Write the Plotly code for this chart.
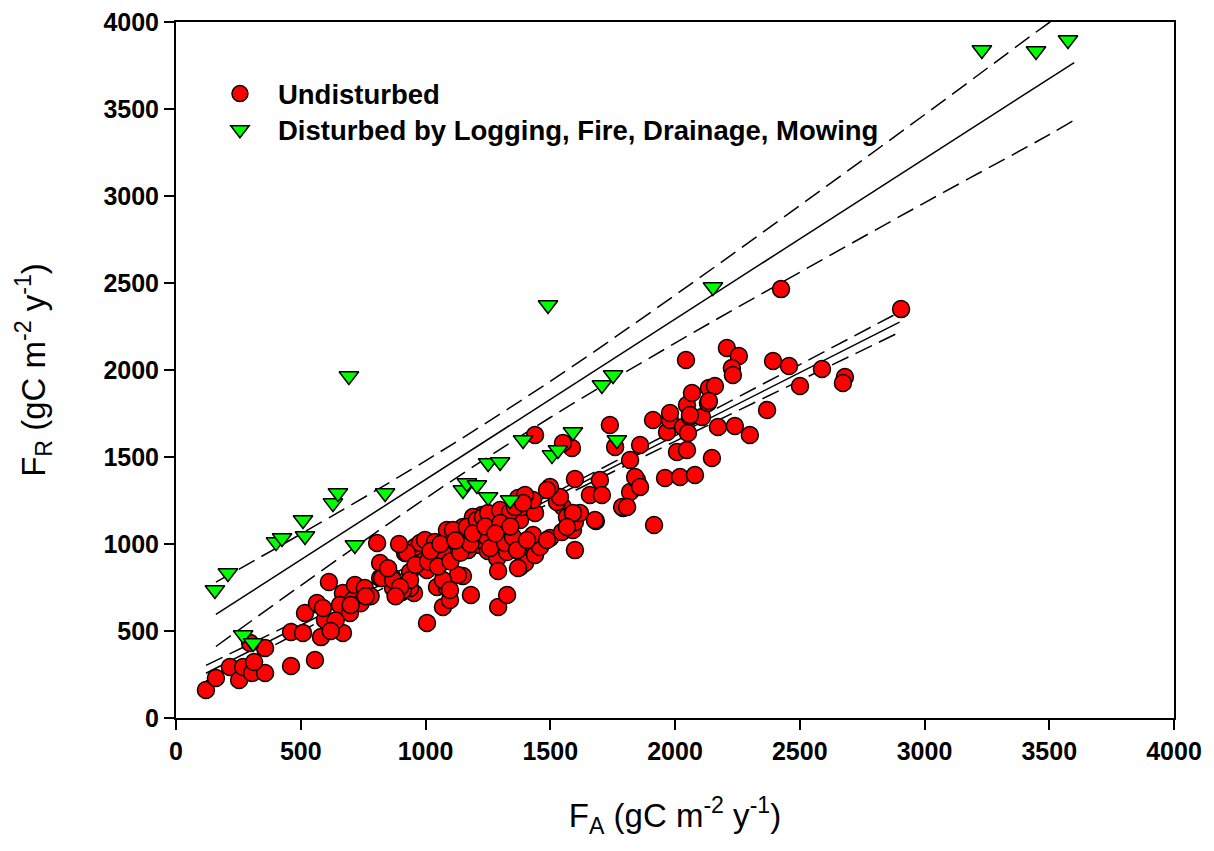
import plotly.graph_objects as go

# ---- Undisturbed sites (F_A, F_R) ----
und_x = [120,160,216,253,269,305,357,313,357,297,461,557,461,509,581,669,517,597,565,589,
         613,669,657,697,709,717,757,818,818,866,938,870,906,954,1006,1070,1098,1182,1291,1327,
         1150,1130,938,1006,1046,1086,918,998,1030,1070,1090,1146,1170,1226,1190,1287,1291,1279,1218,1250,
         1287,1291,1327,1339,1379,1387,1439,1391,1379,1399,1407,1439,1459,1499,1547,1591,1599,1619,1683,1599,
         1551,1527,1792,1916,1599,1699,1659,1679,1567,1539,1788,1820,1848,1840,1820,1860,1739,1587,1760,1551,
         1912,1960,2020,2080,2148,2008,2048,1968,1980,1980,2032,2060,2108,2052,2048,2132,2172,2240,2300,2369,
         2425,2906,2044,2208,2256,2228,2232,2393,2457,2589,2501,2681,2673,2068,2136,2160,2136,2060,1439,1860,
         1808,1707,1499,1591,1567,1459,1431,1431,1371,1371,1399,1487,806,826,870,910,938,1070,1098,1086,
         1138,1150,958,978,998,1038,1110,1166,1206,1230,1251,1299,1339,1359,1391,1206,1246,1259,1319,1351,
         1367,1407,1487,926,894,898,960,1010,1050,1100,1140,1180,1020,1060,1120,1190,1240,1300,1340,1280,
         850,880,780,740,640,620,700,760]
und_y = [161,230,293,218,293,259,259,322,402,431,299,333,494,489,465,489,603,563,661,632,
         782,718,649,603,678,764,747,891,805,810,839,747,724,718,546,638,678,707,638,707,
         816,822,747,851,753,747,948,925,983,948,1063,1080,965,1167,1155,1155,1092,1011,994,960,
         919,845,954,1040,1138,1213,1178,937,868,891,1011,937,994,1034,1069,1080,1126,1178,1132,965,
         1213,1241,1207,1109,1374,1368,1282,1138,1155,1270,1213,1299,1368,1385,1483,1569,1684,1552,1558,1580,
         1713,1379,1385,1397,1494,1529,1540,1644,1713,1753,1672,1730,1730,1638,1799,1810,1672,1678,1626,1770,
         2465,2350,2057,2126,2080,2011,1971,2052,2023,2006,1908,1960,1925,1868,1897,1908,1822,1741,1626,1328,
         1213,1282,1328,1178,1098,983,1052,1253,862,1264,1282,1310,1006,805,793,736,793,793,736,1080,
         1040,1098,983,1006,1023,1011,1080,1098,1138,1155,1178,1195,1184,1213,1236,1023,1040,977,1006,1040,
         965,1023,1023,948,1000,753,880,900,870,900,950,1000,960,1000,1020,1060,1100,1120,1100,1060,
         860,700,700,660,560,500,650,700]

# ---- Disturbed sites (logging, fire, drainage, mowing) ----
dis_x = [156,208,269,309,401,425,509,517,629,649,717,838,693,1150,1166,1206,1251,1299,1251,1339,
         1391,1491,1507,1531,1591,1707,1752,1767,2152,3230,3447,3575]
dis_y = [736,833,477,431,1011,1034,1138,1046,1235,1293,994,1293,1966,1310,1350,1339,1466,1471,1270,1253,
         1598,2374,1511,1540,1644,1914,1971,1598,2477,3839,3833,3897]

# ---- Regression lines and 95% confidence bands ----
dis_fit_x = [160, 3600]
dis_fit_y = [596, 3767]
dis_band_x = [160, 500, 1000, 1500, 2000, 2500, 3000, 3500, 3600]
dis_up_y = [781, 1057, 1478, 1935, 2430, 2945, 3467, 3997, 4097]
dis_lo_y = [411, 761, 1262, 1727, 2154, 2561, 2961, 3353, 3437]

und_fit_x = [120, 2900]
und_fit_y = [257, 2275]
und_band_x = [120, 500, 1000, 1500, 2000, 2500, 2900]
und_up_y = [302, 568, 920, 1282, 1654, 2031, 2333]
und_lo_y = [212, 498, 872, 1236, 1590, 1939, 2217]

ticks = [0, 500, 1000, 1500, 2000, 2500, 3000, 3500, 4000]

FONT = "Liberation Sans, Arial, sans-serif"
line_solid = dict(color="black", width=1.5)
line_dash = dict(color="black", width=1.5, dash="18px,8px")

fig = go.Figure()

for xs, ys, ln in [(dis_fit_x, dis_fit_y, line_solid), (dis_band_x, dis_up_y, line_dash),
                   (dis_band_x, dis_lo_y, line_dash), (und_fit_x, und_fit_y, line_solid),
                   (und_band_x, und_up_y, line_dash), (und_band_x, und_lo_y, line_dash)]:
    fig.add_trace(go.Scatter(x=xs, y=ys, mode="lines", line=ln, showlegend=False,
                             hoverinfo="skip", line_shape="spline"))

fig.add_trace(go.Scatter(
    x=und_x, y=und_y, mode="markers", name="Undisturbed",
    marker=dict(symbol="circle", size=17, color="#FF0000",
                line=dict(color="black", width=1.5)),
    legend="legend"))
fig.add_trace(go.Scatter(
    x=dis_x, y=dis_y, mode="markers", name="Disturbed by Logging, Fire, Drainage, Mowing",
    marker=dict(symbol="triangle-down", size=17, color="#00FF00",
                line=dict(color="black", width=1.5)),
    legend="legend2"))

axis_common = dict(
    range=[0, 4000], tickvals=ticks, ticks="outside", ticklen=10, tickwidth=1.5,
    tickcolor="black", showline=True, linecolor="black", linewidth=2, mirror=True,
    showgrid=False, zeroline=False, automargin=False, ticklabeloverflow="allow",
    tickfont=dict(family=FONT, size=25, color="black", weight="bold"),
)

leg_common = dict(font=dict(family=FONT, size=27.5, color="black", weight="bold"),
                  bgcolor="rgba(0,0,0,0)", itemwidth=66, xanchor="left", yanchor="middle")

fig.update_layout(
    width=1214, height=851,
    margin=dict(l=168, r=48, t=14, b=141),
    paper_bgcolor="white", plot_bgcolor="white",
    xaxis=dict(**axis_common,
               title=dict(text="F<sub>A</sub> (gC m<sup>-2</sup> y<sup>-1</sup>)",
                          font=dict(family=FONT, size=33, color="black"), standoff=40)),
    yaxis=dict(**axis_common,
               title=dict(text="F<sub>R</sub> (gC m<sup>-2</sup> y<sup>-1</sup>)",
                          font=dict(family=FONT, size=33, color="black"), standoff=48)),
    legend=dict(x=0.026, y=0.897, **leg_common),
    legend2=dict(x=0.026, y=0.845, **leg_common),
)

fig.write_html("out.html")
